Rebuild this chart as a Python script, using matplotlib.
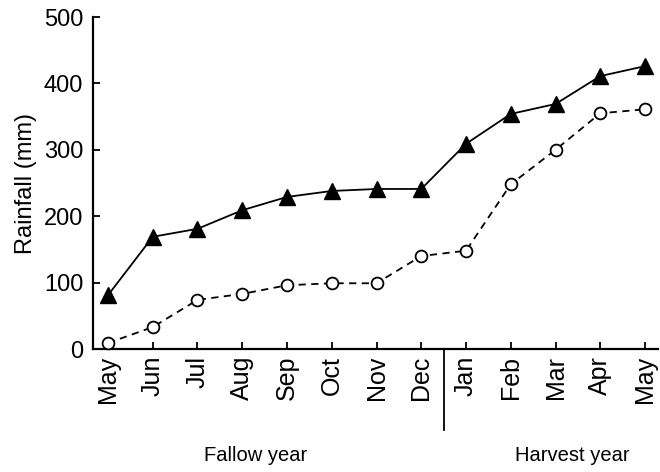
import matplotlib.pyplot as plt
import matplotlib.transforms as mtransforms

plt.rcParams['font.family'] = ['Liberation Sans', 'DejaVu Sans']

months = ["May", "Jun", "Jul", "Aug", "Sep", "Oct", "Nov", "Dec",
          "Jan", "Feb", "Mar", "Apr", "May"]
rain_solid = [81, 169, 181, 209, 229, 238, 241, 241, 309, 354, 369, 411, 426]
rain_dashed = [9, 33, 74, 83, 96, 99, 99, 140, 148, 248, 300, 355, 361]
period_labels = ["Fallow year", "Harvest year"]

fig = plt.figure(figsize=(6.6, 4.72), dpi=100)
ax = fig.add_axes([93 / 660, 123 / 472, 565 / 660, 332 / 472])

x = list(range(len(months)))
ax.plot(x, rain_solid, color='black', lw=1.3, marker='^', ms=11,
        mfc='black', mec='black', clip_on=False, zorder=3)
ax.plot(x, rain_dashed, color='black', lw=1.3, ls=(0, (4, 3)), marker='o',
        ms=8.5, mfc='white', mec='black', mew=1.3, clip_on=False, zorder=3)

ax.set_xlim(-0.335, 12.29)
ax.set_ylim(0, 500)
ax.set_yticks([0, 100, 200, 300, 400, 500])
ax.set_xticks(x)
ax.set_xticklabels(months, rotation=90, fontsize=18)
ax.tick_params(axis='y', labelsize=17, pad=7)
ax.tick_params(axis='x', pad=5)
ax.tick_params(direction='in', length=5, width=1.3, color='black')
ax.set_ylabel("Rainfall (mm)", fontsize=17, labelpad=5)

for side in ['top', 'right']:
    ax.spines[side].set_visible(False)
for side in ['left', 'bottom']:
    ax.spines[side].set_linewidth(1.6)

trans = mtransforms.blended_transform_factory(ax.transData, ax.transAxes)
ax.plot([7.5, 7.5], [0, -0.245], color='black', lw=1.3,
        transform=trans, clip_on=False)
ax.text(3.3, -0.32, period_labels[0], transform=trans, ha='center',
        va='center', fontsize=14.5)
ax.text(10.38, -0.32, period_labels[1], transform=trans, ha='center',
        va='center', fontsize=14.5)

fig.savefig("out.png", dpi=100)
